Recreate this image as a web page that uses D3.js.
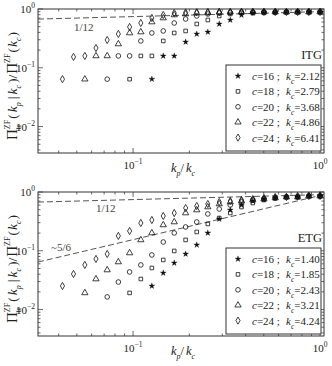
<!DOCTYPE html>
<html>
<head>
<meta charset="UTF-8">
<script src="https://d3js.org/d3.v7.min.js"></script>
<style>
  body { margin: 0; background: white; }
  svg { display: block; }
  text { font-family: "Liberation Serif", "DejaVu Serif", serif; fill: #222; }
</style>
</head>
<body>
<script>
  // k_p / k_c for the shells (shared by every series, last c entries are used)
  const kRatio = [0.0419, 0.0480, 0.0552, 0.0633, 0.0727, 0.0834, 0.0958, 0.110, 0.126, 0.145,
    0.166, 0.191, 0.219, 0.251, 0.289, 0.331, 0.380, 0.437, 0.501, 0.576, 0.661, 0.759, 0.871, 1.0];

  const cValues = [16, 18, 20, 22, 24];
  const itgKc = ["2.12", "2.79", "3.68", "4.86", "6.41"];
  const etgKc = ["1.40", "1.85", "2.43", "3.21", "4.24"];

  const itg16 = [0.064, 0.159, 0.159, 0.275, 0.376, 0.406, 0.556, 0.650, 0.791, 0.855, 0.872, 0.88, 0.885, 0.889, 0.889, 0.889];
  const itg18 = [0.064, 0.159, 0.159, 0.286, 0.391, 0.423, 0.556, 0.650, 0.760, 0.822, 0.855, 0.872, 0.88, 0.885, 0.889, 0.889, 0.889, 0.889];
  const itg20 = [0.064, 0.159, 0.159, 0.286, 0.391, 0.423, 0.578, 0.676, 0.760, 0.822, 0.855, 0.872, 0.88, 0.885, 0.889, 0.889, 0.889, 0.889, 0.889, 0.889];
  const itg22 = [0.064, 0.159, 0.159, 0.254, 0.391, 0.406, 0.601, 0.703, 0.791, 0.822, 0.855, 0.872, 0.88, 0.885, 0.889, 0.889, 0.889, 0.889, 0.889, 0.889, 0.889, 0.889];
  const itg24 = [0.064, 0.153, 0.159, 0.217, 0.297, 0.376, 0.494, 0.578, 0.703, 0.791, 0.855, 0.872, 0.88, 0.885, 0.889, 0.889, 0.889, 0.889, 0.889, 0.889, 0.889, 0.889, 0.889, 0.889];

  const etg16 = [0.0252, 0.0419, 0.0620, 0.0882, 0.126, 0.201, 0.347, 0.494, 0.601, 0.703, 0.760, 0.791, 0.822, 0.822, 0.855, 0.855];
  const etg18 = [0.0192, 0.0331, 0.0510, 0.0698, 0.0993, 0.153, 0.209, 0.286, 0.361, 0.439, 0.556, 0.650, 0.731, 0.791, 0.822, 0.822, 0.855, 0.855];
  const etg20 = [0.0164, 0.0294, 0.0436, 0.0574, 0.0849, 0.141, 0.201, 0.254, 0.309, 0.423, 0.514, 0.601, 0.676, 0.731, 0.760, 0.791, 0.822, 0.822, 0.855, 0.855];
  const etg22 = [0.0192, 0.0331, 0.0471, 0.0645, 0.0918, 0.153, 0.201, 0.275, 0.309, 0.439, 0.494, 0.556, 0.625, 0.676, 0.703, 0.731, 0.760, 0.791, 0.822, 0.822, 0.855, 0.855];
  const etg24 = [0.0252, 0.0403, 0.0574, 0.0726, 0.0882, 0.179, 0.217, 0.297, 0.334, 0.391, 0.439, 0.534, 0.578, 0.625, 0.676, 0.703, 0.731, 0.760, 0.791, 0.822, 0.822, 0.855, 0.855, 0.855];

  // guide power laws: coef * x^exp
  const itgGuides = [{ label: "1/12", coef: 0.9, exp: 1 / 12 }];
  const etgGuides = [{ label: "1/12", coef: 0.9, exp: 1 / 12 }, { label: "~5/6", coef: 0.87, exp: 0.75 }];

  const xTicks = [0.1, 1];
  const xTickLabels = ["\u22121", "0"];
  const yTicks = [1, 0.1, 0.01];
  const yTickLabels = ["0", "\u22121", "\u22122"];

  const W = 332, H = 366;
  const svg = d3.select("body").append("svg").attr("width", W).attr("height", H);

  const x = d3.scaleLog().domain([0.031, 1.05]).range([38, 324]);
  const symbols = [d3.symbolStar, d3.symbolSquare, d3.symbolCircle, d3.symbolTriangle, d3.symbolDiamond];
  const symSizes = [11, 13, 17, 17, 15];

  // lays out text pieces with sub/superscripts; hold = next piece stacks on same x
  function rich(g, pieces, px, py, anchor, size) {
    const grp = g.append("g");
    let cx = 0, holdW = 0;
    pieces.forEach(p => {
      const t = grp.append("text")
        .attr("x", cx + (p.gap || 0))
        .attr("y", p.dy || 0)
        .attr("font-size", p.s || size)
        .attr("font-style", p.it ? "italic" : null)
        .text(p.t);
      if (p.fill) t.style("fill", p.fill);
      const w = t.node().getComputedTextLength() + (p.gap || 0);
      if (p.hold) holdW = w;
      else { cx += Math.max(w, holdW); holdW = 0; }
    });
    const dx = anchor === "middle" ? -cx / 2 : anchor === "end" ? -cx : 0;
    grp.attr("transform", `translate(${px + dx},${py})`);
    return grp;
  }

  function panel(top, series, kcs, name, guides, guideLabelPos) {
    const h = 144;
    const y = d3.scaleLog().domain([Math.pow(10, -2.45), 1]).range([top + h, top]);
    const g = svg.append("g");
    const [x0, x1] = x.range();

    // ticks on all four sides, inward
    const xt = x.ticks().filter(v => v >= x.domain()[0] && v <= x.domain()[1]);
    xt.forEach(v => {
      const major = xTicks.some(m => Math.abs(m - v) < 1e-9);
      const len = major ? 5 : 2.5;
      g.append("line").attr("x1", x(v)).attr("x2", x(v)).attr("y1", top + h).attr("y2", top + h - len)
        .attr("stroke", "#444").attr("stroke-width", 0.8);
      g.append("line").attr("x1", x(v)).attr("x2", x(v)).attr("y1", top).attr("y2", top + len)
        .attr("stroke", "#444").attr("stroke-width", 0.8);
    });
    const yt = y.ticks().filter(v => v >= y.domain()[0] && v <= 1);
    yt.forEach(v => {
      const major = yTicks.some(m => Math.abs(m - v) < 1e-9);
      const len = major ? 5 : 2.5;
      g.append("line").attr("x1", x0).attr("x2", x0 + len).attr("y1", y(v)).attr("y2", y(v))
        .attr("stroke", "#444").attr("stroke-width", 0.8);
      g.append("line").attr("x1", x1).attr("x2", x1 - len).attr("y1", y(v)).attr("y2", y(v))
        .attr("stroke", "#444").attr("stroke-width", 0.8);
    });
    g.append("rect").attr("x", x0).attr("y", top).attr("width", x1 - x0).attr("height", h)
      .attr("fill", "none").attr("stroke", "#333").attr("stroke-width", 1);

    // tick labels
    xTicks.forEach((v, i) => {
      rich(g, [{ t: "10" }, { t: xTickLabels[i], s: 7.5, dy: -5 }], x(v), top + h + 16, "middle", 11);
    });
    yTicks.forEach((v, i) => {
      rich(g, [{ t: "10" }, { t: yTickLabels[i], s: 7.5, dy: -5 }], x0 - 3, y(v) + 4, "end", 11);
    });

    // axis titles
    rich(g, [{ t: "k", it: true }, { t: "p", it: true, s: 8, dy: 4 }, { t: "/" }, { t: "k", it: true, gap: 2 }, { t: "c", it: true, s: 8, dy: 4 }],
      183, top + h + 19, "middle", 12.5);
    const yt1 = svg.append("g").attr("transform", `translate(17,${top + 77}) rotate(-90)`);
    rich(yt1, [
      { t: "\u03a0", s: 15 }, { t: "ZF", s: 8, dy: -7, hold: true }, { t: "tr", s: 8, dy: 4 },
      { t: "(", gap: 1 }, { t: "k", it: true, gap: 2 }, { t: "p", it: true, s: 8, dy: 4 },
      { t: "|", gap: 3 }, { t: "k", it: true, gap: 2 }, { t: "c", it: true, s: 8, dy: 4 },
      { t: ")", gap: 2 }, { t: "/" }, { t: "\u03a0", s: 15, gap: 1 }, { t: "ZF", s: 8, dy: -7 },
      { t: "(", gap: 1 }, { t: "k", it: true, gap: 1 }, { t: "c", it: true, s: 8, dy: 4 }, { t: ")", gap: 1 }
    ], 0, 0, "middle", 13.5);

    // guide lines
    const line = d3.line().x(d => x(d[0])).y(d => y(d[1]));
    guides.forEach((gd, i) => {
      const pts = x.domain().map(v => [v, gd.coef * Math.pow(v, gd.exp)]);
      g.append("path").attr("d", line(pts)).attr("fill", "none")
        .attr("stroke", "#555").attr("stroke-width", 1).attr("stroke-dasharray", "6,3");
      rich(g, [{ t: gd.label, fill: "#444" }], guideLabelPos[i][0], top + guideLabelPos[i][1], "start", 11);
    });

    // points
    series.forEach((vals, si) => {
      const xs = kRatio.slice(kRatio.length - vals.length);
      const sym = d3.symbol().type(symbols[si]).size(symSizes[si]);
      g.selectAll(null).data(vals).enter().append("path")
        .attr("d", sym)
        .attr("transform", (d, i) => `translate(${x(xs[i])},${y(d)})`)
        .attr("fill", si === 0 ? "#111" : "none")
        .attr("stroke", "#111").attr("stroke-width", si === 0 ? 0.3 : 0.8);
    });

    // panel name
    rich(g, [{ t: name }], x1 - 2, top + 50, "end", 12.5);

    // legend
    const lx = 226, ly = top + 56;
    g.append("rect").attr("x", lx).attr("y", ly).attr("width", 95).attr("height", 86)
      .attr("fill", "white").attr("stroke", "#333").attr("stroke-width", 1);
    cValues.forEach((c, i) => {
      const ry = ly + 11 + i * 15.4;
      g.append("path").attr("d", d3.symbol().type(symbols[i]).size(symSizes[i]))
        .attr("transform", `translate(${lx + 12},${ry})`)
        .attr("fill", i === 0 ? "#111" : "none")
        .attr("stroke", "#111").attr("stroke-width", i === 0 ? 0.3 : 0.8);
      rich(g, [{ t: "c", it: true }, { t: "=" + c + " ;" }], lx + 26, ry + 4, "start", 11);
      rich(g, [{ t: "k", it: true }, { t: "c", it: true, s: 7.5, dy: 4 }, { t: "=" + kcs[i] }], lx + 60, ry + 4, "start", 11);
    });
  }

  panel(9, [itg16, itg18, itg20, itg22, itg24], itgKc, "ITG", itgGuides, [[74, 22]]);
  panel(192, [etg16, etg18, etg20, etg22, etg24], etgKc, "ETG", etgGuides, [[96, 20], [51, 59]]);
</script>
</body>
</html>
